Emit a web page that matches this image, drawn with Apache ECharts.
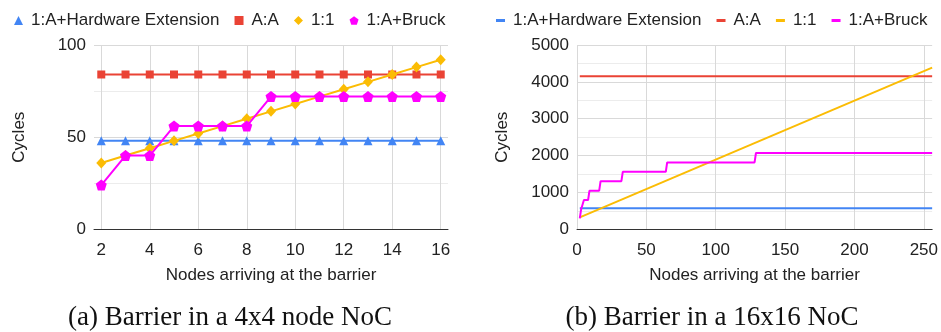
<!DOCTYPE html>
<html>
<head>
<meta charset="utf-8">
<script src="https://cdn.jsdelivr.net/npm/echarts@6/dist/echarts.min.js"></script>
<style>
  html, body { margin: 0; padding: 0; background: #ffffff; }
  #chart { width: 941px; height: 332px; }
</style>
</head>
<body>
<div id="chart"></div>
<script>
// ---- series names ----
const seriesNames = ['1:A+Hardware Extension', 'A:A', '1:1', '1:A+Bruck'];
const seriesColors = ['#4285F4', '#EA4335', '#FBBC04', '#FF00FF'];

// ---- (a) 4x4 node NoC ----
const nodes4x4 = [2, 3, 4, 5, 6, 7, 8, 9, 10, 11, 12, 13, 14, 15, 16];
const hwExt4x4 = [48, 48, 48, 48, 48, 48, 48, 48, 48, 48, 48, 48, 48, 48, 48];
const allToAll4x4 = [84, 84, 84, 84, 84, 84, 84, 84, 84, 84, 84, 84, 84, 84, 84];
const oneToOne4x4 = [36, 40, 44, 48, 52, 56, 60, 64, 68, 72, 76, 80, 84, 88, 92];
const bruck4x4 = [24, 40, 40, 56, 56, 56, 56, 72, 72, 72, 72, 72, 72, 72, 72];
const xTicks4x4 = [2, 4, 6, 8, 10, 12, 14, 16];

// ---- (b) 16x16 NoC ----
const flatNodes16x16 = [2, 256];
const hwExt16x16 = [570, 570];
const allToAll16x16 = [4150, 4150];
const oneToOneNodes16x16 = [2, 256];
const oneToOne16x16 = [325, 4385];
const bruckNodes16x16 = [2, 3, 4, 5, 8, 9, 16, 17, 32, 33, 64, 65, 128, 129, 256];
const bruck16x16 = [298, 545, 545, 795, 795, 1047, 1047, 1305, 1305, 1560, 1560, 1815, 1815, 2070, 2070];
const xTicks16x16 = [0, 50, 100, 150, 200, 250];

const captionA = '(a) Barrier in a 4x4 node NoC';
const captionB = '(b) Barrier in a 16x16 NoC';
const xTitle = 'Nodes arriving at the barrier';
const yTitle = 'Cycles';

const pentagon = 'path://M0,-1 L0.951,-0.309 L0.588,0.809 L-0.588,0.809 L-0.951,-0.309 Z';
const markerShapes = ['triangle', 'rect', 'diamond', pentagon];
const markerSizes = [9, 8, [10, 11], 11];

const pair = (xs, ys) => xs.map((x, i) => [x, ys[i]]);

const FONT = 'Liberation Sans, Arial, sans-serif';
const textColor = '#222222';
const gridColor = '#d9d9d9';
const minorGridColor = '#ececec';

function xAxisOf(gridIndex, min, max, ticks) {
  return {
    type: 'value', gridIndex, min, max,
    axisLine: { show: true, lineStyle: { color: '#333333', width: 1 } },
    axisTick: { show: false, customValues: ticks },
    axisLabel: { customValues: ticks, color: textColor, fontSize: 17, fontFamily: FONT, margin: 13 },
    splitLine: { show: true, lineStyle: { color: gridColor, width: 1 } },
    name: xTitle, nameLocation: 'middle', nameGap: 38,
    nameTextStyle: { color: textColor, fontSize: 17, fontFamily: FONT }
  };
}

function yAxisOf(gridIndex, max, interval) {
  return {
    type: 'value', gridIndex, min: 0, max, interval,
    axisLine: { show: false }, axisTick: { show: false },
    axisLabel: { color: textColor, fontSize: 17, fontFamily: FONT, margin: 8, formatter: v => String(v) },
    splitLine: { show: true, lineStyle: { color: gridColor, width: 1 } },
    minorTick: { show: false, splitNumber: 2 },
    minorSplitLine: { show: true, lineStyle: { color: minorGridColor, width: 1 } },
    name: yTitle, nameLocation: 'middle', nameRotate: 90, nameGap: 66,
    nameTextStyle: { color: textColor, fontSize: 17, fontFamily: FONT }
  };
}

const leftSeriesData = [hwExt4x4, allToAll4x4, oneToOne4x4, bruck4x4];
const leftSeries = leftSeriesData.map((vals, i) => ({
  name: seriesNames[i], type: 'line', xAxisIndex: 0, yAxisIndex: 0,
  data: pair(nodes4x4, vals),
  symbol: markerShapes[i], symbolSize: markerSizes[i], showSymbol: true,
  itemStyle: { color: seriesColors[i] },
  lineStyle: { color: seriesColors[i], width: 2 },
  z: 2 + i,
  animation: false
}));

const rightSeriesData = [
  pair(flatNodes16x16, hwExt16x16),
  pair(flatNodes16x16, allToAll16x16),
  pair(oneToOneNodes16x16, oneToOne16x16),
  pair(bruckNodes16x16, bruck16x16)
];
// trailing space keeps the two legends independent of each other
const rightSeries = rightSeriesData.map((data, i) => ({
  name: seriesNames[i] + ' ', type: 'line', xAxisIndex: 1, yAxisIndex: 1,
  data, showSymbol: false, symbol: 'none',
  itemStyle: { color: seriesColors[i] },
  lineStyle: { color: seriesColors[i], width: 2 },
  animation: false
}));

const legendText = { color: textColor, fontSize: 17, fontFamily: FONT, padding: [0, 0, 0, 3] };

const option = {
  backgroundColor: '#ffffff',
  animation: false,
  grid: [
    { left: 94, right: 493, top: 45, bottom: 102.7 },
    { left: 577, right: 8, top: 45, bottom: 102.7 }
  ],
  legend: [
    {
      left: 9, top: 7, itemWidth: 9, itemHeight: 9, itemGap: 15,
      textStyle: legendText,
      data: seriesNames.map((n, i) => ({ name: n, icon: markerShapes[i] }))
    },
    {
      left: 491, top: 7, itemWidth: 9, itemHeight: 3, itemGap: 15,
      textStyle: legendText,
      formatter: n => n.trim(),
      data: seriesNames.map(n => ({ name: n + ' ', icon: 'rect' }))
    }
  ],
  xAxis: [
    xAxisOf(0, 1.7, 16.3, xTicks4x4),
    xAxisOf(1, 0, 256, xTicks16x16)
  ],
  yAxis: [
    yAxisOf(0, 100, 50),
    yAxisOf(1, 5000, 1000)
  ],
  series: leftSeries.concat(rightSeries),
  graphic: [
    {
      type: 'text', x: 230, y: 318,
      style: { text: captionA, fill: '#111111', font: '27px "Liberation Serif", serif', align: 'center', verticalAlign: 'middle' }
    },
    {
      type: 'text', x: 712, y: 318,
      style: { text: captionB, fill: '#111111', font: '27px "Liberation Serif", serif', align: 'center', verticalAlign: 'middle' }
    }
  ]
};

const chart = echarts.init(document.getElementById('chart'), null, { renderer: 'canvas' });
chart.setOption(option);
</script>
</body>
</html>
